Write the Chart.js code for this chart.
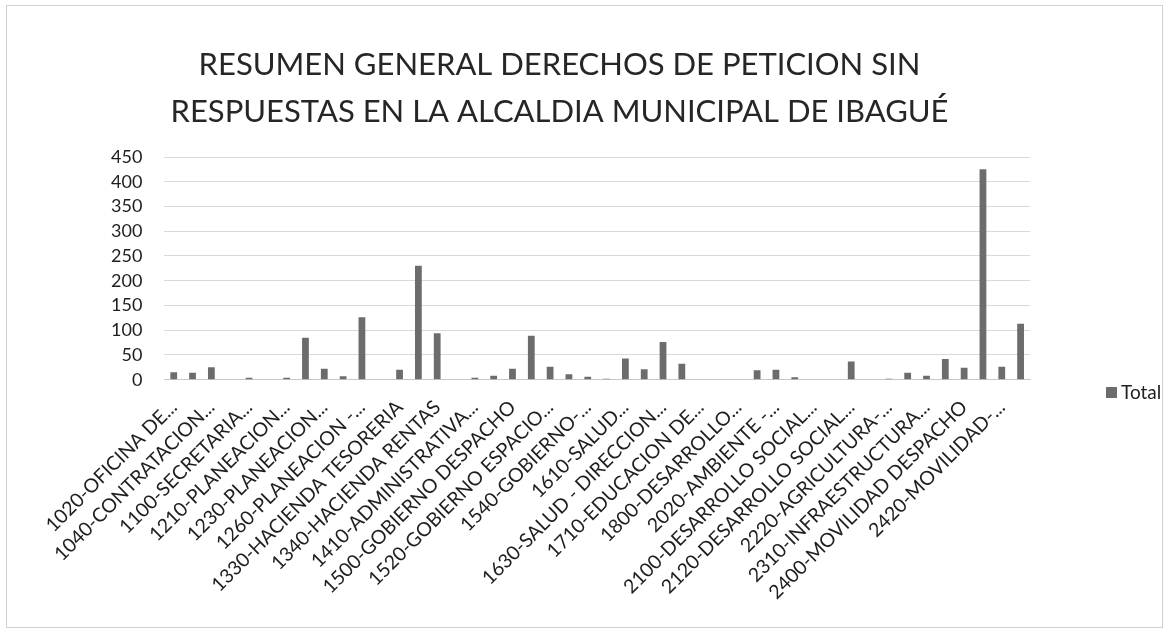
<!DOCTYPE html>
<html>
<head>
<meta charset="utf-8">
<title>Resumen general derechos de petición</title>
<script src="https://cdn.jsdelivr.net/npm/chart.js@4.4.1/dist/chart.umd.min.js"></script>
<style>
  html, body { margin: 0; padding: 0; background: #fff; }
  #wrap { width: 1168px; height: 636px; position: relative; }
</style>
</head>
<body>
<div id="wrap"><canvas id="chart" width="1168" height="636"></canvas></div>
<script>
// dependencias (Excel solo rotula una de cada dos)
var dependencias = [
  '1020-OFICINA DE...', '1030-CONTROL INTERNO...', '1040-CONTRATACION...', '1050-JURIDICA...',
  '1100-SECRETARIA...', '1200-PLANEACION DESPACHO', '1210-PLANEACION...', '1220-PLANEACION...',
  '1230-PLANEACION...', '1240-PLANEACION...', '1260-PLANEACION -...', '1300-HACIENDA DESPACHO',
  '1330-HACIENDA TESORERIA', '1335-HACIENDA...', '1340-HACIENDA RENTAS', '1400-ADMINISTRATIVA...',
  '1410-ADMINISTRATIVA...', '1420-ADMINISTRATIVA...', '1500-GOBIERNO DESPACHO', '1510-GOBIERNO...',
  '1520-GOBIERNO ESPACIO...', '1530-GOBIERNO...', '1540-GOBIERNO-...', '1600-SALUD DESPACHO',
  '1610-SALUD...', '1620-SALUD...', '1630-SALUD - DIRECCION...', '1700-EDUCACION...',
  '1710-EDUCACION DE...', '1720-EDUCACION...', '1800-DESARROLLO...', '2000-AMBIENTE...',
  '2020-AMBIENTE -...', '2030-AMBIENTE...', '2100-DESARROLLO SOCIAL...', '2110-DESARROLLO...',
  '2120-DESARROLLO SOCIAL...', '2200-AGRICULTURA...', '2220-AGRICULTURA-...', '2300-INFRAESTRUCTURA...',
  '2310-INFRAESTRUCTURA...', '2320-INFRAESTRUCTURA...', '2400-MOVILIDAD DESPACHO', '2410-MOVILIDAD...',
  '2420-MOVILIDAD-...', '2430-MOVILIDAD...'
];

// total de derechos de peticion sin respuesta
var totales = [
  15, 14, 25, 0, 4, 0, 4, 85, 22, 7, 126, 0,
  20, 230, 94, 0, 4, 8, 22, 89, 26, 11, 6, 2,
  43, 21, 76, 32, 0, 0, 0, 19, 20, 5, 0, 0,
  37, 0, 2, 14, 8, 42, 24, 425, 26, 113
];

var ticksY = [0, 50, 100, 150, 200, 250, 300, 350, 400, 450];

var fuente = 'Lato, "Open Sans", sans-serif';

// marco gris del escaneo + leyenda a la derecha
var marco = {
  id: 'marco',
  beforeDraw: function (chart) {
    var ctx = chart.ctx;
    ctx.save();
    ctx.fillStyle = '#ffffff';
    ctx.fillRect(0, 0, chart.width, chart.height);
    ctx.strokeStyle = '#cfcfcf';
    ctx.lineWidth = 1;
    ctx.strokeRect(6.5, 5.5, 1156, 622);
    ctx.restore();
  },
  afterDraw: function (chart) {
    var ctx = chart.ctx;
    var ds = chart.data.datasets[0];
    ctx.save();
    ctx.fillStyle = ds.backgroundColor;
    ctx.fillRect(1106, 387, 11, 11);
    ctx.fillStyle = '#222';
    ctx.font = '19px ' + fuente;
    ctx.textBaseline = 'middle';
    ctx.fillText(ds.label, 1121, 393);
    ctx.restore();
  }
};

new Chart(document.getElementById('chart'), {
  type: 'bar',
  data: {
    labels: dependencias,
    datasets: [{
      label: 'Total',
      data: totales,
      backgroundColor: '#6c6c6c',
      barPercentage: 0.72,
      categoryPercentage: 0.5
    }]
  },
  options: {
    responsive: false,
    animation: false,
    layout: { padding: { left: 89, right: 138, top: 0, bottom: 24 } },
    plugins: {
      legend: { display: false },
      tooltip: { enabled: false },
      title: {
        display: true,
        text: ['RESUMEN GENERAL DERECHOS DE PETICION SIN', 'RESPUESTAS EN LA ALCALDIA MUNICIPAL DE IBAGUÉ'],
        color: '#262626',
        font: { family: fuente, size: 31, weight: 'normal', lineHeight: 1.5 },
        padding: { top: 42, bottom: 22 }
      }
    },
    scales: {
      y: {
        min: ticksY[0],
        max: ticksY[ticksY.length - 1],
        afterBuildTicks: function (axis) {
          axis.ticks = ticksY.map(function (v) { return { value: v }; });
        },
        border: { display: false },
        grid: { color: '#d9d9d9', drawTicks: false },
        ticks: { autoSkip: false, color: '#1e1e1e', padding: 22, font: { family: fuente, size: 18 } }
      },
      x: {
        border: { display: true, color: '#c8c8c8' },
        grid: { display: false },
        ticks: {
          autoSkip: false,
          minRotation: 45,
          maxRotation: 45,
          padding: 8,
          color: '#1e1e1e',
          font: { family: fuente, size: 19.5 },
          callback: function (val, i) {
            return i % 2 === 0 ? this.getLabelForValue(val) : '';
          }
        }
      }
    }
  },
  plugins: [marco]
});
</script>
</body>
</html>
